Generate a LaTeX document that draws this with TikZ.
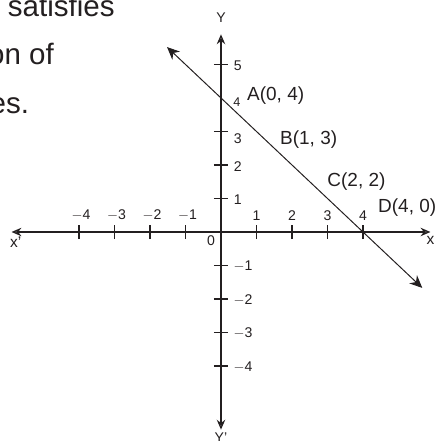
\documentclass[tikz,border=0pt]{standalone}
\usepackage{fontspec}
\setmainfont{Liberation Sans}
\usetikzlibrary{arrows.meta, positioning, calc}
\definecolor{ink}{RGB}{35, 31, 32}
\begin{document}
\begin{tikzpicture}[
        x=0.8875cm, y=0.8375cm,
        axis/.style={ink, line width=1pt, {Stealth[open, length=7pt, width=6pt]}-{Stealth[open, length=7pt, width=6pt]}},
        tick/.style={ink, line width=0.8pt},
        graph/.style={ink, line width=0.7pt, {Stealth[length=9pt, width=8pt]}-{Stealth[length=9pt, width=8pt]}},
        num/.style={font=\fontsize{10}{12}\selectfont, text=ink, inner sep=1pt},
        pt/.style={font=\fontsize{13.5}{16}\selectfont, text=ink, inner sep=0pt, anchor=west},
        page/.style={font=\fontsize{21}{25}\selectfont, text=ink, anchor=base east, inner sep=0pt}
      ]
        \useasboundingbox (-6.225,-6.239) rectangle (6.169,6.925);
        \clip (-6.225,-6.239) rectangle (6.169,6.925);
        % cut-off page text
        \node[page] (t1) at (-2.99,6.42) {satisfies};
        \node[page] (t2) at (-4.7,4.99) {on of};
        \node[page] (t3) at (-5.4,3.55) {es.};
        % axes
        \coordinate (o) at (0,0);
        \coordinate (xl) at (-5.9,0);
        \coordinate (xr) at (5.9,0);
        \coordinate (yt) at (0,5.9);
        \coordinate (yb) at (0,-5.9);
        \draw[axis] (xl) -- (xr);
        \draw[axis] (yb) -- (yt);
        \node[num, font=\fontsize{11}{13}\selectfont, below=2pt of xl, xshift=3pt] (xlab) {x'};
        \node[num, font=\fontsize{11}{13}\selectfont, below=2pt of xr] (xrlab) {x};
        \node[num, above=7pt of yt] (ytlab) {Y};
        \node[num, below=1pt of yb] (yblab) {Y'};
        \node[num, anchor=north east] (zero) at (-0.12,-0.05) {0};
        % ticks
        \foreach \i in {1,2,3,4} {
          \draw[tick] (\i,-0.21) -- (\i,0.21);
          \draw[tick] (-\i,-0.21) -- (-\i,0.21);
          \draw[tick] (-0.2,-\i) -- (0.2,-\i);
          \node[num] (xn\i) at (-\i+0.06,0.5) {$-$\i};
          \node[num] (xp\i) at (\i,0.5) {\i};
          \node[num] (yn\i) at (0.62,-\i-0.03) {$-$\i};
        }
        \foreach \i in {1,2,3,5} {
          \draw[tick] (-0.2,\i) -- (0.2,\i);
        }
        \node[num] (yp1) at (0.47,0.95) {1};
        \node[num] (yp2) at (0.47,1.94) {2};
        \node[num] (yp3) at (0.47,2.8) {3};
        \node[num, font=\fontsize{9}{11}\selectfont] (yp4) at (0.45,3.88) {4};
        \node[num] (yp5) at (0.47,4.95) {5};
        % the line x + y = 4
        \coordinate (p1) at (-1.52,5.52);
        \coordinate (p2) at (5.67,-1.67);
        \draw[graph] (p1) -- (p2);
        \node[pt] (A) at (0.73,4.06) {A(0, 4)};
        \node[pt] (B) at (1.66,2.75) {B(1, 3)};
        \node[pt] (C) at (2.99,1.49) {C(2, 2)};
        \node[pt] (D) at (4.42,0.72) {D(4, 0)};
      \end{tikzpicture}
\end{document}
